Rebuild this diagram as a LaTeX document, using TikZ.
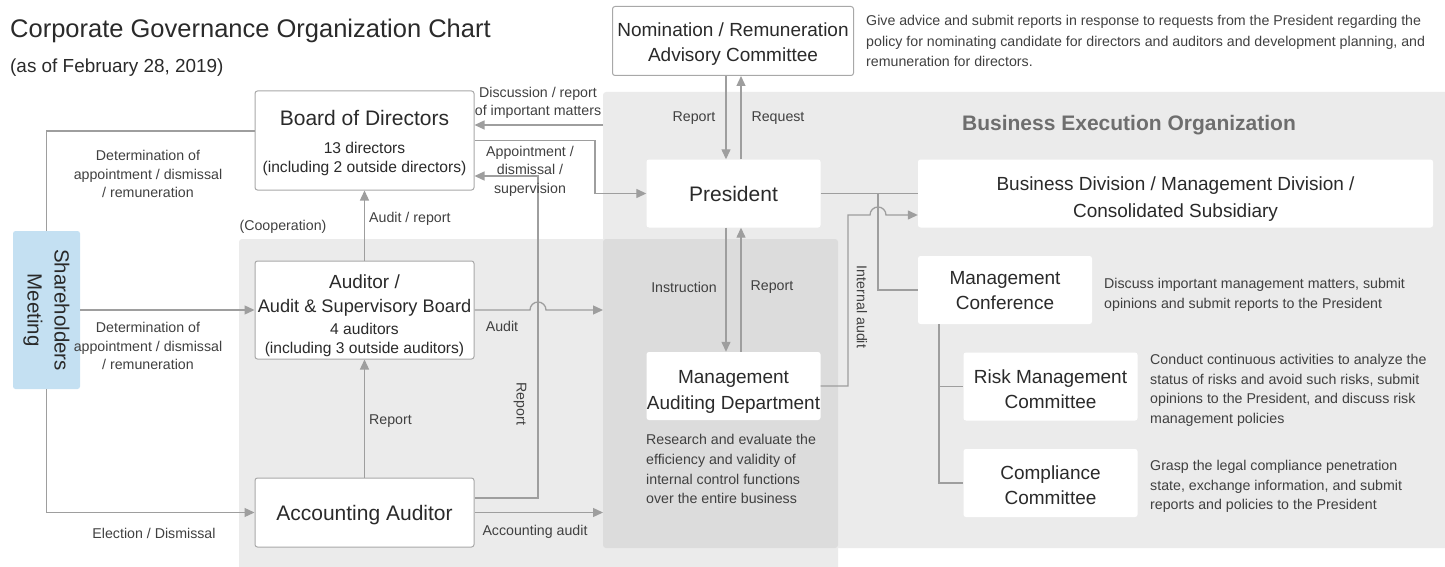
\documentclass[tikz,border=0pt]{standalone}
\usepackage{fontspec}
\setmainfont{Liberation Sans}
\usetikzlibrary{arrows.meta}

\definecolor{boxgray}{HTML}{A8A8A8}
\definecolor{linegray}{HTML}{9E9E9E}
\definecolor{bglight}{HTML}{EBEBEB}
\definecolor{bgdark}{HTML}{DCDCDC}
\definecolor{shblue}{HTML}{C4E0F2}
\definecolor{txt}{HTML}{2A2A2A}
\definecolor{lbltxt}{HTML}{404040}
\definecolor{beotxt}{HTML}{6E6E6E}

\newcommand\ftitle{\fontsize{25.5}{30}\selectfont}
\newcommand\fdate{\fontsize{18.9}{22}\selectfont}
\newcommand\fbig{\fontsize{21}{25.5}\selectfont}
\newcommand\fmid{\fontsize{19}{25.5}\selectfont}
\newcommand\fsub{\fontsize{15.6}{18.5}\selectfont}
\newcommand\flbl{\fontsize{14.2}{18.5}\selectfont}
\newcommand\fdesc{\fontsize{14.2}{19.6}\selectfont}

\tikzset{
  framebox/.style={draw=boxgray, line width=1pt, fill=white, rounded corners=2.5pt, inner sep=0pt},
  plainbox/.style={fill=white, rounded corners=2.5pt, inner sep=0pt},
  boxtext/.style={inner sep=0pt, align=center, text=txt},
  conn/.style={draw=linegray, line width=1.3pt},
  arr/.style={conn, -{Triangle[length=10pt,width=9pt]}},
  lbl/.style={font=\flbl, text=lbltxt, align=center, inner sep=0pt},
  desc/.style={font=\fdesc, text=lbltxt, align=left, anchor=north west, inner sep=0pt},
}

\begin{document}
\begin{tikzpicture}[x=1pt, y=-1pt]
\useasboundingbox (0,0) rectangle (1445,567);

% shaded areas: business execution organization, audit area and their overlap
\fill[bglight, rounded corners=3pt] (603,92) rectangle (1450,548);
\fill[bglight, rounded corners=3pt] (239,239) rectangle (838,575);
\fill[bgdark, rounded corners=3pt] (603,239) rectangle (838,548);

% headings
\node[anchor=base west, inner sep=0pt, font=\ftitle, text=txt] (title) at (10,38) {Corporate Governance Organization Chart};
\node[anchor=base west, inner sep=0pt, font=\fdate, text=txt] (date) at (10,73) {(as of February 28, 2019)};
\node[anchor=base, inner sep=0pt, font=\fontsize{21}{24}\selectfont\bfseries, text=beotxt] (beo) at (1129,131) {Business Execution Organization};

% organs (frames)
\node[plainbox, fill=shblue, rotate=-90, minimum width=158pt, minimum height=67pt,
      font=\fontsize{20.5}{27}\selectfont, text=txt, align=center] (share) at (46.5,310) {Shareholders\\Meeting};

\node[framebox, minimum width=219pt, minimum height=99pt] (board) at (364.5,140.5) {};
\node[framebox, minimum width=219pt, minimum height=98pt] (auditor) at (364.5,310) {};
\node[framebox, minimum width=219pt, minimum height=69pt] (acct) at (364.5,512.5) {};
\node[framebox, minimum width=241pt, minimum height=69pt] (nom) at (733,41) {};
\node[plainbox, minimum width=174pt, minimum height=68pt] (president) at (733.5,193.5) {};
\node[plainbox, minimum width=174pt, minimum height=68pt] (mad) at (733.5,386) {};
\node[plainbox, minimum width=515pt, minimum height=68pt] (busdiv) at (1175.5,193.5) {};
\node[plainbox, minimum width=174pt, minimum height=68pt] (conf) at (1005,290) {};
\node[plainbox, minimum width=174pt, minimum height=68pt] (risk) at (1050.5,386.5) {};
\node[plainbox, minimum width=174pt, minimum height=68pt] (compl) at (1050.5,483) {};

% organ names
\node[boxtext, font=\fsub] (boardtxt) at ([yshift=-2.5pt]board.center)
  {{\fbig Board of Directors}\\[9.5pt]13 directors\\(including 2 outside directors)};
\node[boxtext, font=\fsub] (auditortxt) at ([yshift=-5.5pt]auditor.center)
  {{\fmid Auditor /}\\[5.5pt]{\fontsize{18.2}{25.5}\selectfont Audit \& Supervisory Board}\\[3.5pt]4 auditors\\[0.5pt](including 3 outside auditors)};
\node[boxtext, font=\fbig] (accttxt) at ([yshift=-2.5pt]acct.center) {Accounting Auditor};
\node[boxtext, font=\fmid] (nomtxt) at ([yshift=-3pt]nom.center) {Nomination / Remuneration\\Advisory Committee};
\node[boxtext, font=\fbig] (presidenttxt) at (president.center) {President};
\node[boxtext, font=\fmid] (madtxt) at ([yshift=-6pt]mad.center) {Management\\Auditing Department};
\node[boxtext, font=\fontsize{19}{27}\selectfont] (busdivtxt) at ([yshift=-5.5pt]busdiv.center) {Business Division / Management Division /\\Consolidated Subsidiary};
\node[boxtext, font=\fmid] (conftxt) at ([yshift=-0.5pt]conf.center) {Management\\Conference};
\node[boxtext, font=\fmid] (risktxt) at ([yshift=-2.5pt]risk.center) {Risk Management\\Committee};
\node[boxtext, font=\fmid] (compltxt) at ([yshift=-2pt]compl.center) {Compliance\\Committee};

% descriptions
\node[desc, font=\fontsize{14.2}{20.7}\selectfont] (nomdesc) at (866,15) {Give advice and submit reports in response to requests from the President regarding the\\policy for nominating candidate for directors and auditors and development planning, and\\remuneration for directors.};
\node[desc] (confdesc) at (1104,278) {Discuss important management matters, submit\\opinions and submit reports to the President};
\node[desc] (riskdesc) at (1150,354) {Conduct continuous activities to analyze the\\status of risks and avoid such risks, submit\\opinions to the President, and discuss risk\\management policies};
\node[desc] (compldesc) at (1150,460) {Grasp the legal compliance penetration\\state, exchange information, and submit\\reports and policies to the President};
\node[desc] (maddesc) at (646,434.5) {Research and evaluate the\\efficiency and validity of\\internal control functions\\over the entire business};

% reference points for connectors
\coordinate (xa) at (726,0);
\coordinate (xb) at (741,0);
\coordinate (xc) at (939,0);
\coordinate (repcorner) at (538,176);
\coordinate (apcorner) at (595,170);
\coordinate (auditend) at (603,310);
\coordinate (acctend) at (603,512.5);
\coordinate (discstart) at (603,125);
\coordinate (junction) at (878,193.5);
\coordinate (iacorner) at (848,215);

% shareholders meeting (node rotated: west = top, east = bottom, north = right)
\draw[conn] (share.west) |- ([yshift=9.5pt]board.west);
\draw[arr] (share.north) -- (auditor.west);
\draw[arr] (share.east) |- (acct.west);

% audit side
\draw[arr] (auditor.north) -- (board.south);
\draw[arr] (acct.north) -- (auditor.south);
\draw[arr] ([yshift=14.5pt]acct.east) -| (repcorner) -- (board.east |- repcorner);
\draw[arr] (auditor.east) -- (530,310) arc[start angle=180, end angle=0, radius=8pt] -- (auditend);
\draw[arr] (acct.east) -- (acctend);

% board and president
\draw[arr] (discstart) -- (board.east |- discstart);
\draw[arr] (board.east) -| (apcorner) |- (president.west);
\draw[arr] (nom.south -| xa) -- (president.north -| xa);
\draw[arr] (president.north -| xb) -- (nom.south -| xb);
\draw[arr] (president.south -| xa) -- (mad.north -| xa);
\draw[arr] (mad.north -| xb) -- (president.south -| xb);

% business execution
\draw[conn] (president.east) -- (busdiv.west);
\draw[conn] (junction) |- (conf.west);
\draw[arr] (mad.east) -| (iacorner) -- (870,215) arc[start angle=180, end angle=0, radius=8pt] -- (busdiv.west |- iacorner);
\draw[conn] (conf.south -| xc) |- (risk.west);
\draw[conn] (risk.west -| xc) |- (compl.west);

% connector labels
\node[lbl] (lbldisc) at (538,103) {Discussion / report\\of important matters};
\node[lbl] (lblappt) at (530,171) {Appointment /\\dismissal /\\supervision};
\node[lbl] (lbldet1) at (148,174) {Determination of\\appointment / dismissal\\/ remuneration};
\node[lbl] (lbldet2) at (148,346) {Determination of\\appointment / dismissal\\/ remuneration};
\node[lbl] (lblelect) at (154,533) {Election / Dismissal};
\node[lbl] (lblcoop) at (283,227) {(Cooperation)};
\node[lbl, anchor=west] (lblaudrep) at (369,219) {Audit / report};
\node[lbl, anchor=west] (lblrep1) at (369,421) {Report};
\node[lbl, rotate=-90] (lblrep2) at (520,404) {Report};
\node[lbl] (lblaudit) at (502,326) {Audit};
\node[lbl] (lblacctaud) at (535,532) {Accounting audit};
\node[lbl] (lblnomrep) at (694,118) {Report};
\node[lbl] (lblreq) at (778,118) {Request};
\node[lbl] (lblinstr) at (684,287) {Instruction};
\node[lbl] (lblmadrep) at (772,287) {Report};
\node[lbl, rotate=-90] (lblia) at (862,307) {Internal audit};
\end{tikzpicture}
\end{document}
